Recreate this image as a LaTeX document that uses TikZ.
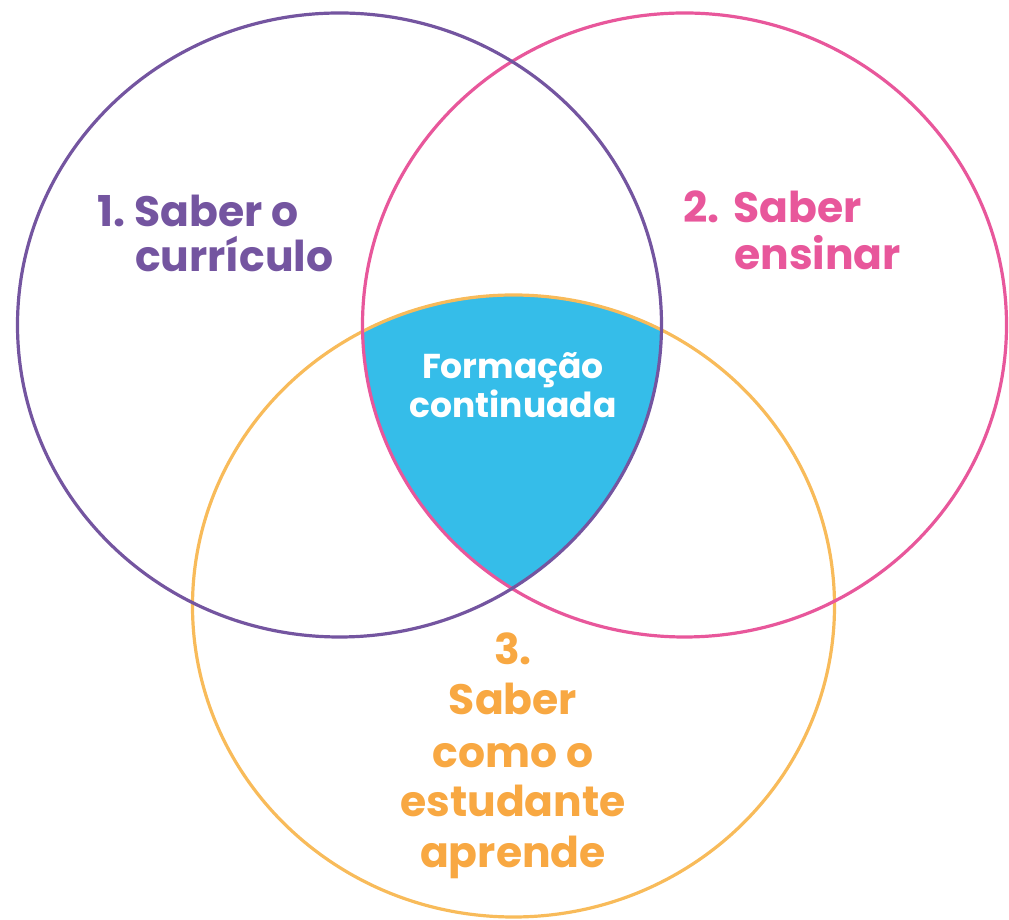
\documentclass[tikz,border=0pt]{standalone}
\usepackage{fontspec}
\setmainfont{Poppins}
\definecolor{cpurple}{HTML}{7455A0}
\definecolor{cpink}{HTML}{E8579B}
\definecolor{cyellow}{HTML}{F8BB5A}
\definecolor{corange}{HTML}{F8A842}
\definecolor{cblue}{HTML}{35BDE9}
\tikzset{
  ring/.style={line width=3.2pt},
  bigtxt/.style={inner sep=0pt, font=\fontsize{42.5}{50}\selectfont\bfseries},
  midtxt/.style={inner sep=0pt, font=\fontsize{34.5}{40}\selectfont\bfseries, text=white},
}
\begin{document}
\begin{tikzpicture}[x=1pt,y=1pt]
\useasboundingbox (0,0) rectangle (1009,920);
\coordinate (c1) at (339.5,595);
\coordinate (c2) at (684.5,595);
\coordinate (c3) at (513.5,314);
% intersection
\begin{scope}
  \clip (c1) ellipse [x radius=322, y radius=312];
  \clip (c2) ellipse [x radius=322, y radius=312];
  \fill[cblue] (c3) ellipse [x radius=321, y radius=311];
\end{scope}
\draw[ring, cyellow] (c3) ellipse [x radius=321, y radius=311];
\draw[ring, cpink] (c2) ellipse [x radius=322, y radius=312];
\draw[ring, cpurple] (c1) ellipse [x radius=322, y radius=312];
% labels
\node[bigtxt, text=cpurple, anchor=base west] (n1) at (97,693) {1.};
\node[bigtxt, text=cpurple, anchor=base west] (l1a) at (134,693) {Saber o};
\node[bigtxt, text=cpurple, anchor=base west] (l1b) at (135,648) {currículo};
\node[bigtxt, text=cpink, anchor=base west] (n2) at (683,697) {2.};
\node[bigtxt, text=cpink, anchor=base west] (l2a) at (733,697) {Saber};
\node[bigtxt, text=cpink, anchor=base west] (l2b) at (734,650) {ensinar};
\node[midtxt, anchor=base] (m1) at (513,541) {Formação};
\node[midtxt, anchor=base] (m2) at (513,502) {continuada};
\node[bigtxt, text=corange, anchor=base] (l3a) at (513,255) {3.};
\node[bigtxt, text=corange, anchor=base] (l3b) at (513,205) {Saber};
\node[bigtxt, text=corange, anchor=base] (l3c) at (513,152) {como o};
\node[bigtxt, text=corange, anchor=base] (l3d) at (513,103) {estudante};
\node[bigtxt, text=corange, anchor=base] (l3e) at (513,52) {aprende};
\end{tikzpicture}
\end{document}
